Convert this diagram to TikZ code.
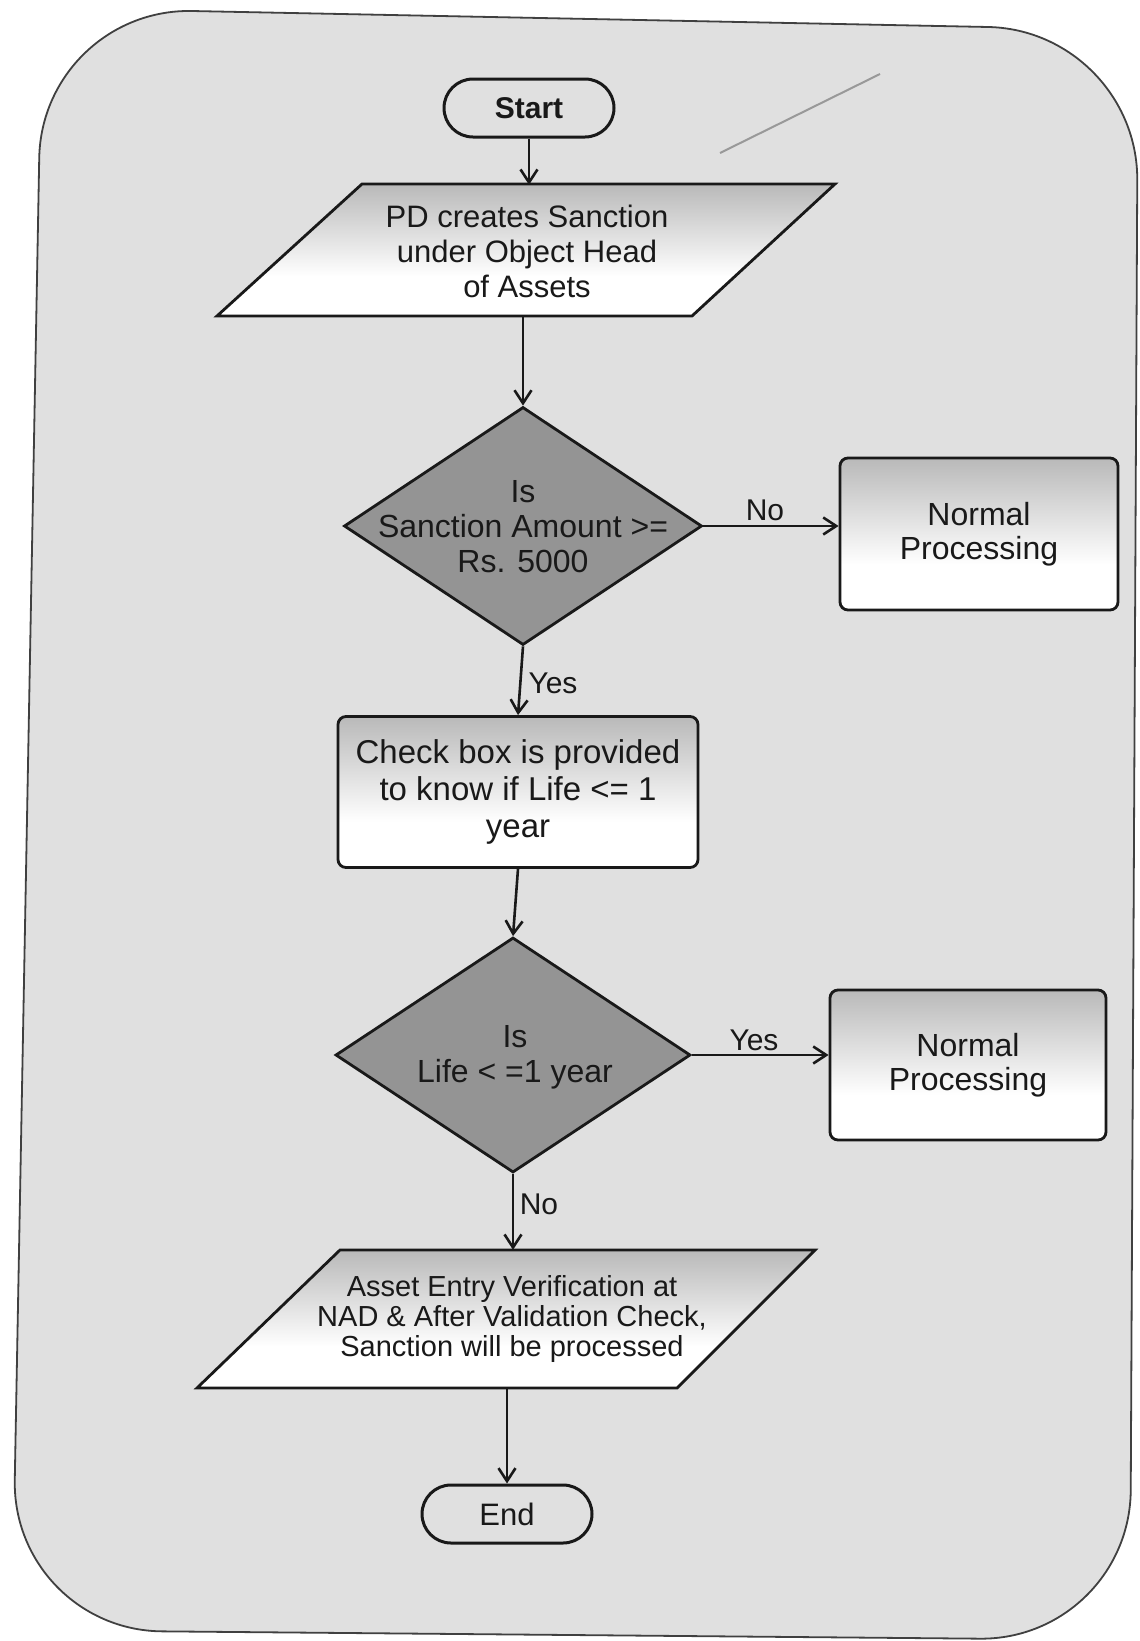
\documentclass[tikz,border=0pt]{standalone}
\usepackage{fontspec}
\setmainfont{Liberation Sans}
\usetikzlibrary{shapes.geometric,arrows.meta}
\pgfdeclareverticalshading{topfade}{100bp}{color(0bp)=(white); color(40bp)=(white); color(82bp)=(black!33); color(100bp)=(black!33)}
\begin{document}
\begin{tikzpicture}[x=1pt,y=-1pt,
  frame/.style={draw=black!75, line width=1.8pt, rounded corners=150pt, fill=black!12},
  line/.style={draw=black!90, line width=2.6pt},
  arr/.style={line, -{Straight Barb[length=13pt,width=17pt,line width=2.6pt]}},
  term/.style={draw=black!90, line width=3pt, rounded corners=29pt, minimum width=170pt, minimum height=58pt, inner sep=0pt, text=black!90},
  shapeline/.style={draw=black!90, line width=2.8pt},
  para/.style={shapeline, shade, shading=topfade},
  dia/.style={shape=diamond, shapeline, fill=black!42, inner sep=0pt},
  box/.style={shapeline, rounded corners=8pt, shade, shading=topfade, inner sep=0pt, align=center, text=black!90},
  txt/.style={align=center, inner sep=0pt, text=black!90},
  lbl/.style={inner sep=0pt, font=\fontsize{30}{34}\selectfont, text=black!90},
  penmark/.style={draw=black!40, line width=2pt}
]
\useasboundingbox (0,0) rectangle (1140,1641);
\fill[white] (0,0) rectangle (1140,1641);
\path[frame] (42,8) -- (1138,30) -- (1130,1640) -- (12,1630) -- cycle;
\draw[penmark] (720,153) -- (880,74);

% Start
\node[term, font=\bfseries\fontsize{30}{34}\selectfont] (start) at (529,108) {Start};

% Parallelogram 1
\path[para] (362,184) -- (835,184) -- (692,316) -- (217,316) -- cycle;
\node[txt, minimum height=132pt, minimum width=330pt, font=\fontsize{31}{35}\selectfont] (p1) at (527,251) {PD creates Sanction\\under Object Head\\of Assets};

% Decision 1
\node[dia, minimum width=358pt, minimum height=238pt] (d1) at (523,526) {};
\node[txt, font=\fontsize{32}{35}\selectfont] (d1t) at (523,527) {Is\\Sanction Amount >=\\Rs. 5000};

% Normal processing 1
\node[box, minimum width=278pt, minimum height=152pt, font=\fontsize{32}{34}\selectfont] (np1) at (979,534) {Normal\\Processing};

% Check box
\node[box, minimum width=360pt, minimum height=151pt, font=\fontsize{33}{37}\selectfont] (chk) at (518,792) {Check box is provided\\to know if Life <= 1\\year};

% Decision 2
\node[dia, minimum width=355pt, minimum height=235pt] (d2) at (513,1055) {};
\node[txt, font=\fontsize{32}{35}\selectfont] (d2t) at (515,1057) {Is\\Life < =1 year};

% Normal processing 2
\node[box, minimum width=276pt, minimum height=150pt, font=\fontsize{32}{34}\selectfont] (np2) at (968,1065) {Normal\\Processing};

% Parallelogram 2
\path[para] (340,1250) -- (815,1250) -- (677,1388) -- (197,1388) -- cycle;
\node[txt, minimum height=138pt, minimum width=400pt, font=\fontsize{29}{30}\selectfont] (p2) at (512,1319) {Asset Entry Verification at\\NAD \& After Validation Check,\\Sanction will be processed};

% End
\node[term, font=\fontsize{31}{34}\selectfont] (end) at (507,1514) {End};

% Connectors
\draw[arr] (start.south) -- (start.south |- p1.north);
\draw[arr] (d1.north |- p1.south) -- (d1.north);
\draw[arr] (d1.east) -- (d1.east -| np1.west);
\node[lbl] (lno1) at (765,510) {No};
\draw[arr] (d1.south) -- (chk.north);
\node[lbl] (lyes1) at (553,683) {Yes};
\draw[arr] (chk.south) -- (d2.north);
\draw[arr] (d2.east) -- (d2.east -| np2.west);
\node[lbl] (lyes2) at (754,1040) {Yes};
\draw[arr] (d2.south) -- (d2.south |- p2.north);
\node[lbl] (lno2) at (539,1204) {No};
\draw[arr] (end.north |- p2.south) -- (end.north);
\end{tikzpicture}
\end{document}
